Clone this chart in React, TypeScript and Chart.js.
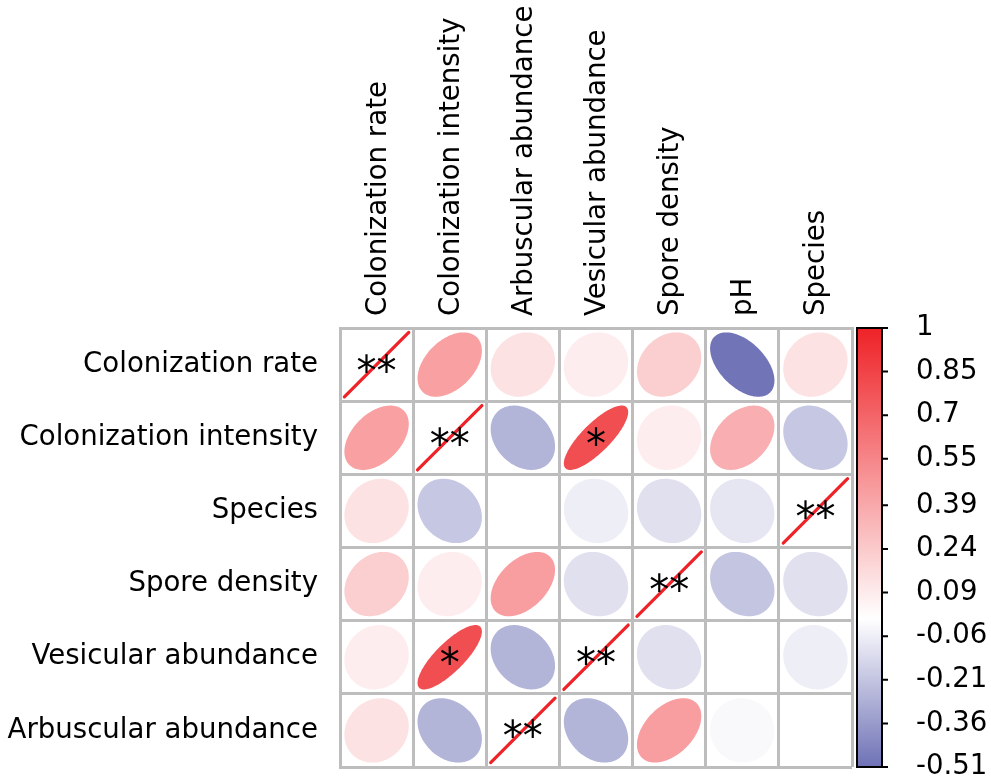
import React, { useEffect, useRef } from "react";
import { Chart, registerables } from "chart.js";

Chart.register(...registerables);

// ---- data ----
const columns = [
  "Colonization rate",
  "Colonization intensity",
  "Arbuscular abundance",
  "Vesicular abundance",
  "Spore density",
  "pH",
  "Species",
];
const rows = [
  "Colonization rate",
  "Colonization intensity",
  "Species",
  "Spore density",
  "Vesicular abundance",
  "Arbuscular abundance",
];

const rowColonizationRate = [1, 0.43, 0.13, 0.08, 0.22, -0.5, 0.13];
const rowColonizationIntensity = [0.43, 1, -0.27, 0.8, 0.08, 0.36, -0.2];
const rowSpecies = [0.13, -0.2, 0, -0.06, -0.11, -0.09, 1];
const rowSporeDensity = [0.22, 0.08, 0.44, -0.11, 1, -0.21, -0.11];
const rowVesicularAbundance = [0.08, 0.8, -0.27, 1, -0.11, 0, -0.06];
const rowArbuscularAbundance = [0.13, -0.27, 1, -0.27, 0.44, -0.02, 0];

const sigColonizationRate = ["**", "", "", "", "", "", ""];
const sigColonizationIntensity = ["", "**", "", "*", "", "", ""];
const sigSpecies = ["", "", "", "", "", "", "**"];
const sigSporeDensity = ["", "", "", "", "**", "", ""];
const sigVesicularAbundance = ["", "*", "", "**", "", "", ""];
const sigArbuscularAbundance = ["", "", "**", "", "", "", ""];

const colorbarTicks = [1, 0.85, 0.7, 0.55, 0.39, 0.24, 0.09, -0.06, -0.21, -0.36, -0.51];
const colorMin = -0.51;
const colorMax = 1;

// ---- styling ----
const RED = [238, 34, 39];
const BLUE = [110, 113, 181];
const FONT = "'DejaVu Sans', sans-serif";
const FONT_SIZE = 27.6;

function colorFor(v: number): string {
  let c = RED;
  let t = 0;
  if (v >= 0) {
    c = RED;
    t = Math.min(1, v / colorMax);
  } else {
    c = BLUE;
    t = Math.min(1, v / colorMin);
  }
  const mix = (k: number) => Math.round(255 + (c[k] - 255) * t);
  return `rgb(${mix(0)},${mix(1)},${mix(2)})`;
}

const matrixValues = [
  rowColonizationRate,
  rowColonizationIntensity,
  rowSpecies,
  rowSporeDensity,
  rowVesicularAbundance,
  rowArbuscularAbundance,
];
const matrixSig = [
  sigColonizationRate,
  sigColonizationIntensity,
  sigSpecies,
  sigSporeDensity,
  sigVesicularAbundance,
  sigArbuscularAbundance,
];

const ellipsePlugin = {
  id: "corrEllipses",
  afterDatasetsDraw(chart: any) {
    const ctx = chart.ctx;
    const xs = chart.scales.x;
    const ys = chart.scales.y;
    const cw = Math.abs(xs.getPixelForValue(1) - xs.getPixelForValue(0));
    const ch = Math.abs(ys.getPixelForValue(1) - ys.getPixelForValue(0));
    const meta = chart.getDatasetMeta(0);
    const data = chart.data.datasets[0].data;
    ctx.save();
    meta.data.forEach((el: any, i: number) => {
      const p = data[i];
      const r = p.v;
      const cx = el.x;
      const cy = el.y;
      const sx = cw * 0.44;
      const sy = ch * 0.44;
      if (r >= 0.999) {
        ctx.strokeStyle = colorFor(1);
        ctx.lineWidth = 3.2;
        ctx.lineCap = "round";
        ctx.beginPath();
        ctx.moveTo(cx - sx, cy + sy);
        ctx.lineTo(cx + sx, cy - sy);
        ctx.stroke();
      } else {
        const d = Math.acos(r);
        ctx.fillStyle = colorFor(r);
        ctx.beginPath();
        const n = 120;
        for (let k = 0; k <= n; k++) {
          const t = (k / n) * Math.PI * 2;
          const px = cx + Math.cos(t + d / 2) * sx;
          const py = cy - Math.cos(t - d / 2) * sy;
          if (k === 0) ctx.moveTo(px, py);
          else ctx.lineTo(px, py);
        }
        ctx.closePath();
        ctx.fill();
      }
      if (p.sig) {
        ctx.fillStyle = "#000";
        ctx.font = `40px ${FONT}`;
        ctx.textAlign = "center";
        ctx.textBaseline = "alphabetic";
        ctx.fillText(p.sig, cx, cy + 20);
      }
    });
    ctx.restore();
  },
};

const colorbarPlugin = {
  id: "colorbar",
  afterDraw(chart: any) {
    const s = chart.scales.cb;
    const ctx = chart.ctx;
    const x0 = s.left + 5;
    const w = 25;
    const top = s.getPixelForValue(colorMax);
    const bottom = s.getPixelForValue(colorMin);
    const g = ctx.createLinearGradient(0, top, 0, bottom);
    g.addColorStop(0, colorFor(colorMax));
    g.addColorStop((colorMax - 0) / (colorMax - colorMin), "rgb(255,255,255)");
    g.addColorStop(1, colorFor(colorMin));
    ctx.save();
    ctx.fillStyle = g;
    ctx.fillRect(x0, top, w, bottom - top);
    ctx.strokeStyle = "#000";
    ctx.lineWidth = 2;
    ctx.strokeRect(x0, top, w, bottom - top);
    ctx.beginPath();
    colorbarTicks.forEach((v) => {
      const y = s.getPixelForValue(v);
      ctx.moveTo(x0 + w, y);
      ctx.lineTo(x0 + w + 6, y);
    });
    ctx.stroke();
    ctx.restore();
  },
};

function zeroPadding(s: any) {
  s.paddingTop = 0;
  s.paddingBottom = 0;
  s.paddingLeft = 0;
  s.paddingRight = 0;
}

export default function App() {
  const ref = useRef<HTMLCanvasElement | null>(null);

  useEffect(() => {
    if (!ref.current) return;
    const points: any[] = [];
    rows.forEach((rn, i) => {
      columns.forEach((cn, j) => {
        points.push({ x: cn, y: rn, v: matrixValues[i][j], sig: matrixSig[i][j] });
      });
    });
    const gridColor = "#bdbdbd";
    const chart = new Chart(ref.current, {
      type: "scatter",
      data: {
        datasets: [
          {
            data: points,
            pointRadius: 0,
            pointHoverRadius: 0,
          } as any,
        ],
      },
      options: {
        animation: false,
        responsive: false,
        events: [],
        layout: { padding: { top: 0, left: 0, right: 0, bottom: 11 } },
        plugins: { legend: { display: false }, tooltip: { enabled: false } },
        scales: {
          x: {
            type: "category",
            labels: columns,
            position: "top",
            offset: true,
            grid: { offset: true, color: gridColor, lineWidth: 3, drawTicks: false },
            border: { color: gridColor, width: 3 },
            ticks: {
              minRotation: 90,
              maxRotation: 90,
              autoSkip: false,
              padding: 12,
              labelOffset: 35,
              color: "#000",
              font: { family: FONT, size: FONT_SIZE },
            },
            afterFit(s: any) {
              s.height = 328;
              zeroPadding(s);
            },
          },
          y: {
            type: "category",
            labels: rows,
            offset: true,
            grid: { offset: true, color: gridColor, lineWidth: 3, drawTicks: false },
            border: { color: gridColor, width: 3 },
            ticks: {
              autoSkip: false,
              padding: 22,
              color: "#000",
              font: { family: FONT, size: FONT_SIZE },
            },
            afterFit(s: any) {
              s.width = 340;
              zeroPadding(s);
            },
          },
          cb: {
            type: "linear",
            position: "right",
            min: colorMin,
            max: colorMax,
            grid: { display: false, drawTicks: false },
            border: { display: false },
            afterBuildTicks(s: any) {
              s.ticks = colorbarTicks.map((v) => ({ value: v }));
            },
            ticks: {
              autoSkip: false,
              padding: 64,
              color: "#000",
              font: { family: FONT, size: FONT_SIZE },
              callback: (v: any) => String(v),
            },
            afterFit(s: any) {
              s.width = 139;
              zeroPadding(s);
            },
          },
        } as any,
      },
      plugins: [ellipsePlugin, colorbarPlugin],
    });
    return () => chart.destroy();
  }, []);

  return (
    <div style={{ position: "absolute", left: 0, top: 0, width: 991, height: 778, background: "#fff" }}>
      <canvas ref={ref} width={991} height={778} style={{ display: "block" }} />
    </div>
  );
}
